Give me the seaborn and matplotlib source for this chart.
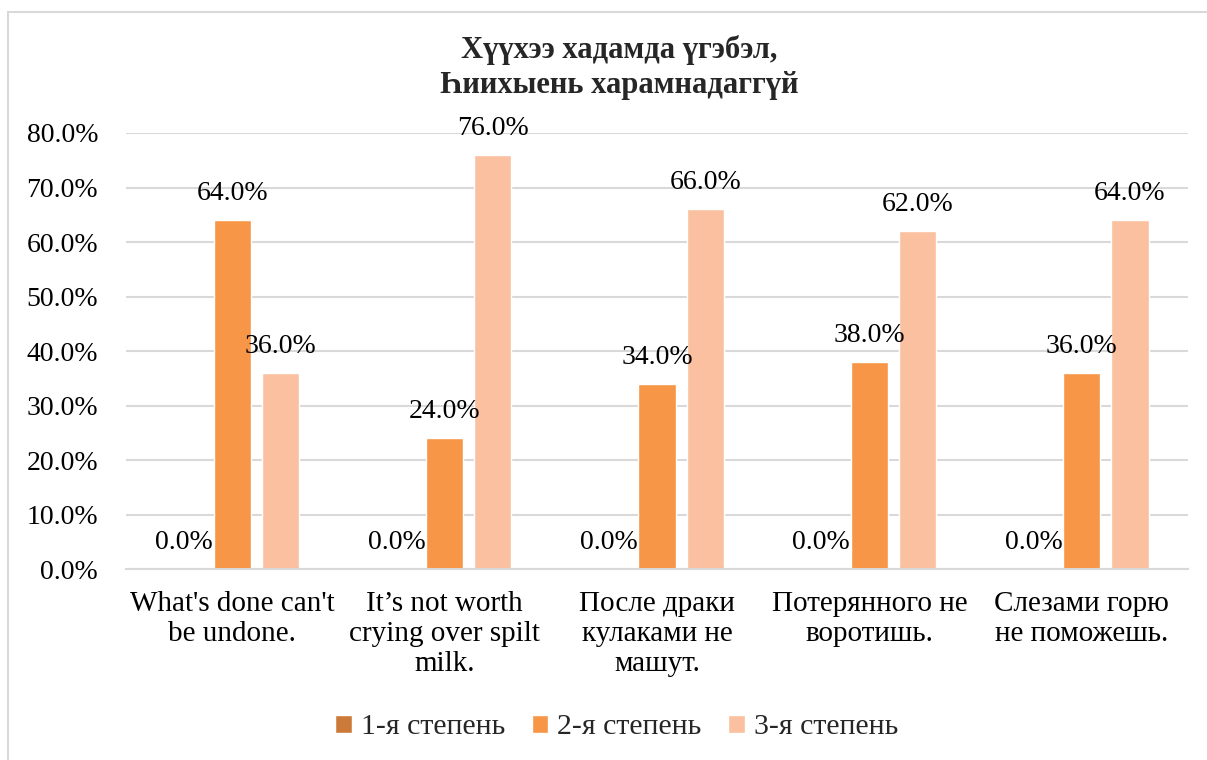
import numpy as np
import pandas as pd
import matplotlib
matplotlib.use("Agg")
import matplotlib.pyplot as plt
import seaborn as sns
from matplotlib.patches import Rectangle

# data
proverbs = ["What's done can't\nbe undone.",
            "It\u2019s not worth\ncrying over spilt\nmilk.",
            "После драки\nкулаками не\nмашут.",
            "Потерянного не\nворотишь.",
            "Слезами горю\nне поможешь."]
degrees = ["1-я степень", "2-я степень", "3-я степень"]
deg1 = [0.0, 0.0, 0.0, 0.0, 0.0]
deg2 = [0.64, 0.24, 0.34, 0.38, 0.36]
deg3 = [0.36, 0.76, 0.66, 0.62, 0.64]
colors = ["#CC7A3A", "#F79646", "#FAC0A0"]
title = "Хүүхээ хадамда үгэбэл,\nҺиихыень харамнадаггүй"

rows = []
for d, vals in zip(degrees, [deg1, deg2, deg3]):
    for p, v in zip(proverbs, vals):
        rows.append({"proverb": p, "degree": d, "share": v})
df = pd.DataFrame(rows)

sns.set_theme(style="white")
plt.rcParams['font.family'] = ['Liberation Serif', 'DejaVu Serif']

fig = plt.figure(figsize=(12.07, 7.6), dpi=100)
ax = fig.add_axes([0.1044, 0.2513, 0.8799, 0.5737])

sns.barplot(data=df, x="proverb", y="share", hue="degree", palette=colors,
            width=0.68, gap=0.23, saturation=1, ax=ax)

for cont in ax.containers:
    vals = [b.get_height() for b in cont]
    ax.bar_label(cont, labels=[f"{v * 100:.1f}%" for v in vals],
                 padding=10, fontsize=20, color="#000000")

ax.set_ylim(0, 0.8)
ax.set_yticks(np.arange(0, 0.81, 0.1))
ax.set_yticklabels([f"{t * 100:.1f}%" for t in np.arange(0, 0.81, 0.1)])
ax.set_xlim(-0.5, 4.5)
ax.yaxis.grid(True, color="#D9D9D9", linewidth=1.5)
ax.set_axisbelow(True)
ax.set_xlabel("")
ax.set_ylabel("")
for s in ["top", "right", "left"]:
    ax.spines[s].set_visible(False)
ax.spines["bottom"].set_color("#D9D9D9")
ax.spines["bottom"].set_linewidth(1.5)
ax.tick_params(axis="y", length=0, pad=20, labelsize=20, labelcolor="#000000")
ax.tick_params(axis="x", length=0, pad=16, labelsize=21, labelcolor="#000000")

handles, labels = ax.get_legend_handles_labels()
ax.get_legend().remove()
fig.legend(handles, labels, loc="center", bbox_to_anchor=(0.511, 0.043),
           ncol=3, frameon=False, fontsize=21.5, handlelength=0.55,
           handleheight=0.55, handletextpad=0.3, columnspacing=0.9)

fig.text(0.513, 0.911, title, ha="center", va="center", fontsize=22,
         fontweight="bold", linespacing=1.3)

fig.patches.append(Rectangle((0.0066, -0.1), 1.2, 1.084, transform=fig.transFigure,
                             fill=False, edgecolor="#D9D9D9", linewidth=1.5))

fig.savefig("out.png", dpi=100)
